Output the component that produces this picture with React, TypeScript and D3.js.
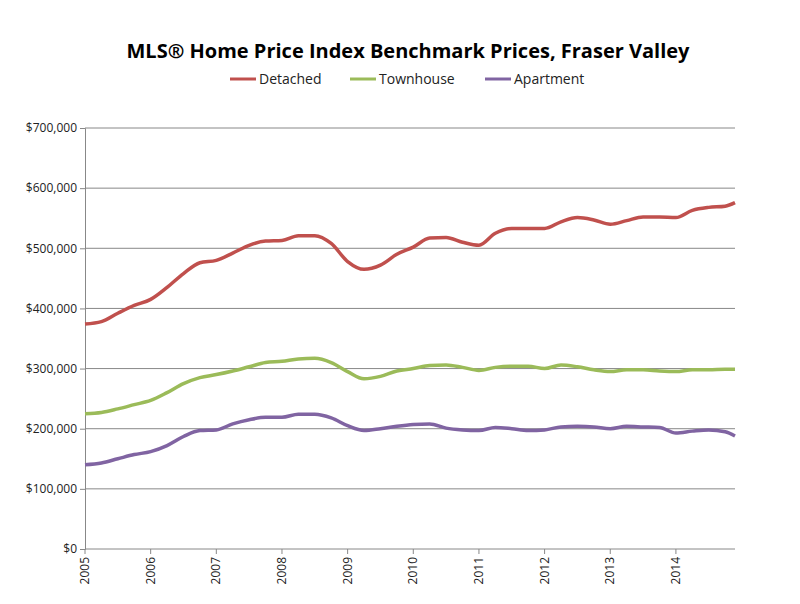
import { useEffect, useRef } from "react";
import * as d3 from "d3";

const times = [2005, 2005.25, 2005.5, 2005.75, 2006, 2006.25, 2006.5, 2006.75, 2007, 2007.25, 2007.5, 2007.75,
    2008, 2008.25, 2008.5, 2008.75, 2009, 2009.25, 2009.5, 2009.75, 2010, 2010.25, 2010.5, 2010.75,
    2011, 2011.25, 2011.5, 2011.75, 2012, 2012.25, 2012.5, 2012.75, 2013, 2013.25, 2013.5, 2013.75,
    2014, 2014.25, 2014.5, 2014.75, 2014.9];

const detached = [374, 378, 392, 405, 415, 435, 458, 476, 480, 492, 505, 512,
    513, 521, 521, 508, 478, 465, 472, 490, 502, 517, 518, 510,
    505, 525, 533, 533, 533, 544, 551, 547, 540, 546, 552, 552,
    551, 563, 568, 570, 576];
const townhouse = [225, 227, 233, 240, 247, 260, 275, 285, 290, 296, 303, 310,
    312, 316, 317, 310, 295, 283, 287, 296, 300, 305, 306, 302,
    297, 302, 304, 304, 300, 306, 303, 298, 295, 298, 298, 296,
    295, 298, 298, 299, 299];
const apartment = [140, 143, 150, 157, 162, 172, 187, 197, 198, 208, 215, 219,
    219, 224, 224, 218, 205, 197, 200, 204, 207, 208, 201, 198,
    197, 202, 200, 197, 198, 203, 204, 203, 200, 204, 203, 202,
    193, 196, 198, 195, 188];

const seriesNames = ["Detached", "Townhouse", "Apartment"];
const seriesColors = ["#c0504d", "#9bbb59", "#8064a2"];
const years = d3.range(2005, 2015);

export default function App() {
    const svgRef = useRef<SVGSVGElement | null>(null);

    useEffect(() => {
        if (!svgRef.current) return;
        const root = d3.select(svgRef.current);
        root.selectAll("*").remove();
        const font = "Open Sans, Liberation Sans, sans-serif";

        root.append("rect").attr("x", 0.5).attr("y", 0.5).attr("width", 799).attr("height", 603)
            .attr("fill", "#fff").attr("stroke", "#888");

        root.append("text").attr("x", 408).attr("y", 58).attr("text-anchor", "middle")
            .attr("font-family", font).attr("font-weight", "bold").attr("font-size", 20)
            .text("MLS® Home Price Index Benchmark Prices, Fraser Valley");

        // Legend
        const legendX = [230, 350, 485];
        seriesNames.forEach((n, i) => {
            const g = root.append("g").attr("transform", `translate(${legendX[i]},79)`);
            g.append("line").attr("x1", 0).attr("x2", 26).attr("stroke", seriesColors[i]).attr("stroke-width", 3);
            g.append("text").attr("x", 29).attr("dy", "0.35em").attr("font-family", font)
                .attr("font-size", 14).attr("fill", "#222").text(n);
        });

        const x = d3.scaleLinear().domain([2005, 2014.9]).range([85, 735]);
        const y = d3.scaleLinear().domain([0, 700]).range([549, 128]);

        const gy = root.append("g").attr("transform", "translate(85,0)")
            .call(d3.axisLeft(y).tickValues(d3.range(0, 701, 100)).tickSize(5)
                .tickFormat((d) => (+d === 0 ? "$0" : `$${d},000`)));
        gy.selectAll("text").attr("font-family", font).attr("font-size", 12).attr("fill", "#222");
        gy.select(".domain").attr("stroke", "#888");
        gy.selectAll(".tick line").attr("stroke", "#888");

        root.append("g").selectAll("line").data(d3.range(100, 701, 100)).join("line")
            .attr("x1", 85).attr("x2", 735).attr("y1", (d) => y(d)).attr("y2", (d) => y(d))
            .attr("stroke", "#888").attr("stroke-width", 1);

        const gx = root.append("g").attr("transform", "translate(0,549)");
        gx.append("line").attr("x1", 85).attr("x2", 735).attr("stroke", "#888");
        gx.selectAll(".t").data(years).join("line").attr("x1", (d) => x(d)).attr("x2", (d) => x(d))
            .attr("y1", 0).attr("y2", 5).attr("stroke", "#888");
        gx.selectAll("text").data(years).join("text")
            .attr("transform", (d) => `translate(${x(d) + 4},8) rotate(-90)`)
            .attr("text-anchor", "end").attr("font-family", font).attr("font-size", 12).attr("fill", "#222")
            .text((d) => d);

        const line = d3.line<number>().x((_, i) => x(times[i])).y((d) => y(d)).curve(d3.curveMonotoneX);
        [detached, townhouse, apartment].forEach((s, i) => {
            root.append("path").attr("d", line(s)).attr("fill", "none")
                .attr("stroke", seriesColors[i]).attr("stroke-width", 3.5);
        });
    }, []);

    return <svg ref={svgRef} width={800} height={604} style={{ display: "block", margin: -8 }} />;
}
